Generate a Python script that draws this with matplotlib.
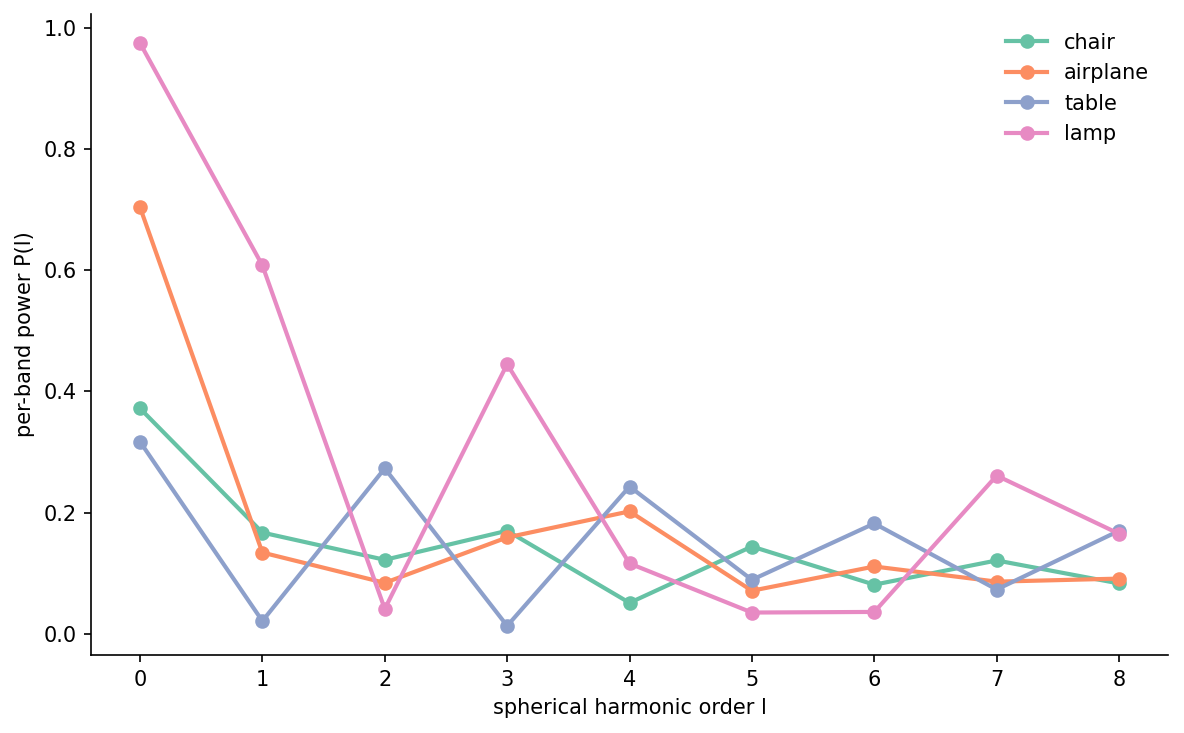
import matplotlib
matplotlib.use("Agg")
import matplotlib.pyplot as plt
import numpy as np

orders = np.arange(9)
chair = [0.372, 0.167, 0.122, 0.170, 0.051, 0.144, 0.081, 0.121, 0.083]
airplane = [0.704, 0.134, 0.084, 0.159, 0.202, 0.071, 0.111, 0.086, 0.091]
table = [0.317, 0.021, 0.273, 0.013, 0.243, 0.089, 0.182, 0.073, 0.170]
lamp = [0.975, 0.608, 0.041, 0.445, 0.116, 0.035, 0.036, 0.261, 0.165]

series = [
    ("chair", chair, "#66c2a5"),
    ("airplane", airplane, "#fc8d62"),
    ("table", table, "#8da0cb"),
    ("lamp", lamp, "#e78ac3"),
]

fig, ax = plt.subplots(figsize=(1184/150, 733/150), dpi=150)
for name, vals, c in series:
    ax.plot(orders, vals, "o-", color=c, label=name, linewidth=2, markersize=6)

ax.set_xlabel("spherical harmonic order l")
ax.set_ylabel("per-band power P(l)")
ax.set_xticks(orders)
ax.spines["top"].set_visible(False)
ax.spines["right"].set_visible(False)
ax.legend(frameon=False, loc="upper right")

fig.subplots_adjust(left=0.0769, right=0.9865, top=0.981, bottom=0.1064)
fig.savefig("out.png", dpi=150)
plt.close(fig)
